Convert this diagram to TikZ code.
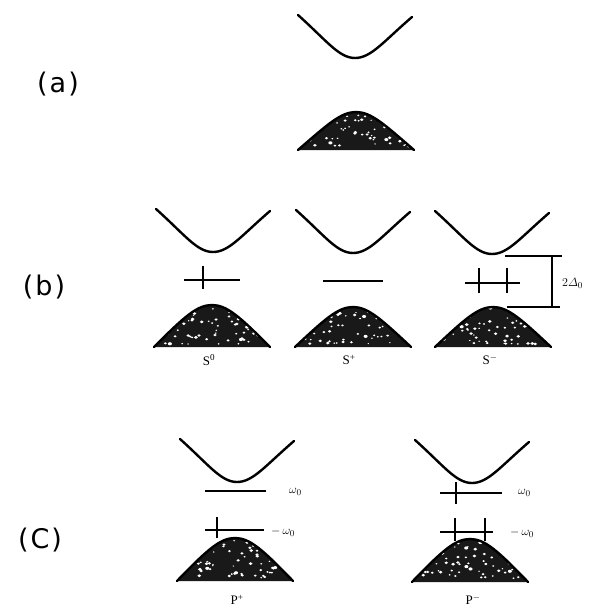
\documentclass[tikz,border=0pt]{standalone}
\usepackage{amsmath}
\usepackage{fontspec}
\setmainfont{Liberation Serif}
\newfontfamily\labfont{DejaVu Sans}
\tikzset{
  band/.style={line width=2.4pt, line cap=round},
  level/.style={line width=1.3pt},
  tickmark/.style={line width=1.8pt},
  panellabel/.style={font=\labfont\fontsize{27}{30}\selectfont, inner sep=0pt},
  statelabel/.style={font=\fontsize{13}{14}\selectfont, inner sep=0pt},
  freqlabel/.style={font=\fontsize{13}{14}\selectfont, inner sep=0pt, anchor=west},
}
\newcommand{\cbandcurve}[2]{%
  \draw[band] ({#1-57},{#2-43}) .. controls ({#1-28},{#2-17}) and ({#1-16},{#2}) .. (#1,#2)
     .. controls ({#1+16},{#2}) and ({#1+28},{#2-16}) .. ({#1+57},{#2-41});
}
\newcommand{\vbandhump}[3]{%
  \begin{scope}
    \clip ({#1-58},#3) .. controls ({#1-28},{#2+12}) and ({#1-15},#2) .. (#1,#2)
       .. controls ({#1+15},#2) and ({#1+28},{#2+12}) .. ({#1+58},#3) -- cycle;
    \fill[black!90] ({#1-60},{#2-2}) rectangle ({#1+60},{#3+1});
    \foreach \k in {1,...,70}{
      \pgfmathsetmacro\rx{#1+54*rand}
      \pgfmathsetmacro\ry{#3-3-38*rnd}
      \pgfmathsetmacro\rr{0.6+1.0*rnd}
      \fill[white] (\rx,\ry) ellipse ({\rr*1.3} and \rr);
    }
  \end{scope}
  \draw[band, line join=round] ({#1-58},#3) .. controls ({#1-28},{#2+12}) and ({#1-15},#2) .. (#1,#2)
       .. controls ({#1+15},#2) and ({#1+28},{#2+12}) .. ({#1+58},#3);
}
\begin{document}
\begin{tikzpicture}[x=1pt,y=-1pt]
\pgfmathsetseed{11}
\useasboundingbox (0,0) rectangle (592,610);
\fill[white] (0,0) rectangle (592,610);

% panel labels
\node[panellabel] (la) at (58,84) {(\hspace{2pt}a\hspace{2pt})};
\node[panellabel] (lb) at (44,287) {(\hspace{2pt}b\hspace{2pt})};
\node[panellabel] (lc) at (40,540) {(\hspace{2pt}C\hspace{2pt})};

% (a)
\cbandcurve{355}{58}
\vbandhump{356}{112}{150}

% (b) S0
\cbandcurve{213}{252}
\draw[level] (184,280) -- (240,280);
\draw[tickmark] (203,266) -- (203,289);
\vbandhump{212}{305}{347}
\node[statelabel] (s0) at (209,360) {S\textsuperscript{0}};

% (b) S+
\cbandcurve{353}{253}
\draw[level] (323,281) -- (383,281);
\vbandhump{353}{307}{347}
\node[statelabel] (sp) at (349,360) {S\textsuperscript{+}};

% (b) S-
\cbandcurve{492}{254}
\draw[level] (465,283) -- (520,283);
\draw[tickmark] (479,268) -- (479,293);
\draw[tickmark] (507,268) -- (507,293);
\vbandhump{493}{307}{347}
\node[statelabel] (sm) at (490,360) {S\textsuperscript{$-$}};
\coordinate (bt1) at (505,256);
\coordinate (bt2) at (552,256);
\coordinate (bb1) at (507,307);
\coordinate (bb2) at (552,307);
\draw[line width=1.1pt] (bt1) -- (562,256);
\draw[line width=1.1pt] (bb1) -- (560,307);
\draw[line width=1.3pt] (bt2) -- (bb2);
\node[freqlabel] (gap) at (562,283) {$2\varDelta_0$};

% (c) P+
\cbandcurve{237}{482}
\draw[level] (205,491) -- (266,491);
\node[freqlabel] (wpu) at (289,492) {$\omega_0$};
\draw[level] (205,530) -- (264,530);
\draw[tickmark] (217,517) -- (217,538);
\node[freqlabel] (wpl) at (271,532) {$-\,\omega_0$};
\vbandhump{235}{538}{581}
\node[statelabel] (pp) at (237,600) {P\textsuperscript{+}};

% (c) P-
\cbandcurve{472}{483}
\draw[level] (440,493) -- (502,493);
\draw[tickmark] (456,482) -- (456,504);
\node[freqlabel] (wmu) at (518,493) {$\omega_0$};
\draw[level] (440,532) -- (493,532);
\draw[tickmark] (455,518) -- (455,541);
\draw[tickmark] (485,518) -- (485,541);
\node[freqlabel] (wml) at (510,533) {$-\,\omega_0$};
\vbandhump{470}{539}{582}
\node[statelabel] (pm) at (473,600) {P\textsuperscript{$-$}};
\end{tikzpicture}
\end{document}
